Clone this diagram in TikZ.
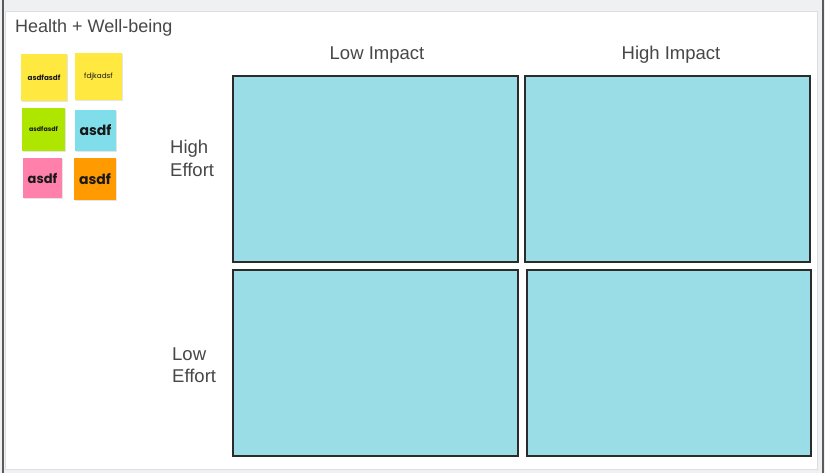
\documentclass[tikz,border=0pt]{standalone}
\usepackage{fontspec}
\setmainfont{Liberation Sans}
\newfontfamily\stickyfont{Poppins}
\definecolor{bgband}{HTML}{EFF0F2}
\definecolor{panelline}{HTML}{DCDEE2}
\definecolor{framedark}{HTML}{5A5A5A}
\definecolor{txt}{HTML}{474747}
\definecolor{quad}{HTML}{9BDDE6}
\definecolor{quadline}{HTML}{2B2B2B}
\definecolor{styellow}{HTML}{FFE940}
\definecolor{stgreen}{HTML}{AEE600}
\definecolor{stcyan}{HTML}{80DEEA}
\definecolor{stpink}{HTML}{FF80AB}
\definecolor{storange}{HTML}{FF9A00}
\tikzset{
  quadbox/.style={draw=quadline, line width=2.2pt, fill=quad},
  lbl/.style={text=txt, font=\fontsize{18.5}{22}\selectfont, inner sep=0pt},
  sticky/.style={inner sep=0pt, font=\stickyfont\bfseries, text=black!90},
  stshadow/.style={fill=black, opacity=0.10},
}
\begin{document}
\begin{tikzpicture}[x=1pt,y=-1pt]
\useasboundingbox (0,0) rectangle (825,473);
% frame
\fill[bgband] (0,0) rectangle (825,473);
\fill[white, draw=panelline, line width=1pt] (5,12) rectangle (817,469);
\draw[framedark, line width=2pt] (3,0) -- (3,473);
\draw[framedark, line width=2pt] (823,0) -- (823,473);
% title
\node[lbl, anchor=base west, font=\fontsize{18}{22}\selectfont] (title) at (15,33) {Health + Well-being};
% column headers
\node[lbl, anchor=base] (lowimp) at (377,59.5) {Low Impact};
\node[lbl, anchor=base] (highimp) at (671,59.5) {High Impact};
% row headers
\node[lbl, anchor=base west] (he1) at (170,154) {High};
\node[lbl, anchor=base west] (he2) at (170,176.5) {Effort};
\node[lbl, anchor=base west] (le1) at (172,360) {Low};
\node[lbl, anchor=base west] (le2) at (172,382.5) {Effort};
% quadrants
\draw[quadbox] (233,76) rectangle (518,262);
\draw[quadbox] (525,76) rectangle (810,262);
\draw[quadbox] (233,270) rectangle (518,456);
\draw[quadbox] (527,270) rectangle (811,456);
% stickies shadows
\fill[stshadow] (21.5,55) rectangle (68,102.5);
\fill[stshadow] (75.5,54) rectangle (123,101.5);
\fill[stshadow] (22.5,109) rectangle (66,152.5);
\fill[stshadow] (75.5,111) rectangle (117,152.5);
\fill[stshadow] (23.5,159) rectangle (63,199.5);
\fill[stshadow] (74.5,159) rectangle (117,201.5);
% stickies
\fill[styellow] (21,54) rectangle (67,101);
\fill[styellow] (75,53) rectangle (122,100);
\fill[stgreen] (22,108) rectangle (65,151);
\fill[stcyan] (75,110) rectangle (116,151);
\fill[stpink] (23,158) rectangle (62,198);
\fill[storange] (74,158) rectangle (116,200);
\node[sticky, font=\stickyfont\bfseries\fontsize{7.2}{8}\selectfont] (s1) at (44,77.5) {asdfasdf};
\node[sticky, font=\stickyfont\fontsize{7.2}{8}\selectfont] (s2) at (98.5,76.5) {fdjkadsf};
\node[sticky, font=\stickyfont\bfseries\fontsize{6.3}{7}\selectfont] (s3) at (43.5,129.5) {asdfasdf};
\node[sticky, font=\stickyfont\bfseries\fontsize{14}{16}\selectfont] (s4) at (95.5,130.5) {asdf};
\node[sticky, font=\stickyfont\bfseries\fontsize{13}{15}\selectfont] (s5) at (42.5,178) {asdf};
\node[sticky, font=\stickyfont\bfseries\fontsize{14}{16}\selectfont] (s6) at (95,179.5) {asdf};
\end{tikzpicture}
\end{document}
